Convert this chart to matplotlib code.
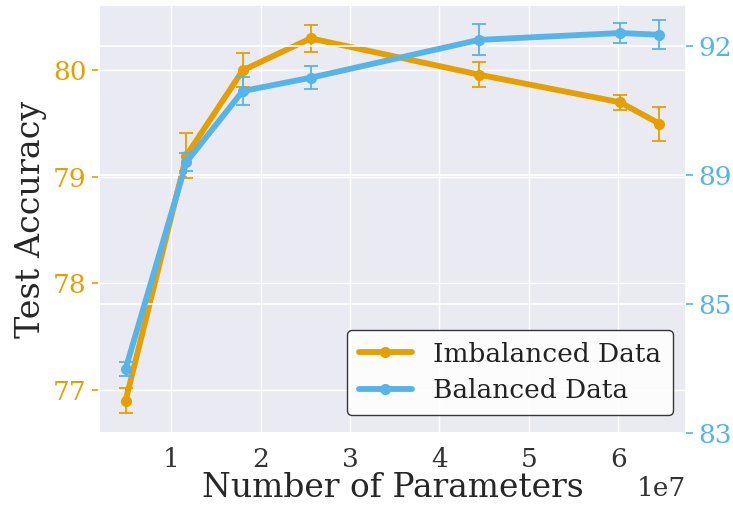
import numpy as np
import matplotlib
matplotlib.use("Agg")
import matplotlib.pyplot as plt
from matplotlib.lines import Line2D
import seaborn as sns

sns.set_theme(style="darkgrid")
plt.rcParams["font.family"] = ["DejaVu Serif"]

# Model sizes (number of parameters)
params = [0.49e7, 1.17e7, 1.80e7, 2.56e7, 4.44e7, 6.02e7, 6.46e7]

# Test accuracy, imbalanced training data (left axis)
acc_imbalanced = [76.90, 79.20, 80.00, 80.30, 79.96, 79.70, 79.50]
err_imbalanced = [0.12, 0.21, 0.16, 0.13, 0.12, 0.07, 0.16]

# Test accuracy, balanced training data (right axis)
acc_balanced = [84.49, 89.30, 90.95, 91.26, 92.14, 92.30, 92.26]
err_balanced = [0.16, 0.20, 0.33, 0.27, 0.36, 0.23, 0.34]

right_ticks = [83, 86, 89, 92]
right_tick_labels = ["83", "85", "89", "92"]

orange = "#E69F00"
blue = "#56B4E9"

fig, ax = plt.subplots(figsize=(7.33, 5.08), dpi=100)
fig.subplots_adjust(left=0.135, right=0.936, top=0.99, bottom=0.148)

ax.errorbar(params, acc_imbalanced, yerr=err_imbalanced, color=orange,
            lw=4.2, marker="o", ms=7, capsize=5, elinewidth=1.3,
            capthick=1.3)
ax.set_ylabel("Test Accuracy", fontsize=24)
ax.set_xlabel("Number of Parameters", fontsize=23.7, labelpad=0)
ax.tick_params(axis="y", colors=orange, labelsize=19, length=5, width=1.2,
               left=True, pad=4)
ax.tick_params(axis="x", labelsize=19, colors="#333333", pad=4)
ax.xaxis.get_offset_text().set_fontsize(19)
ax.set_yticks([77, 78, 79, 80])

ax2 = ax.twinx()
ax2.errorbar(params, acc_balanced, yerr=err_balanced, color=blue,
             lw=4.2, marker="o", ms=7, capsize=5, elinewidth=1.3,
             capthick=1.3)
ax2.set_ylim(83, 92.95)
ax2.set_yticks(right_ticks)
ax2.set_yticklabels(right_tick_labels)
ax2.tick_params(axis="y", colors=blue, labelsize=19, length=5, width=1.2,
                right=True, pad=4)
ax2.grid(True, color="white", lw=1.2)
for s in ax2.spines.values():
    s.set_visible(False)

handles = [Line2D([], [], color=orange, lw=4.2, marker="o", ms=7),
           Line2D([], [], color=blue, lw=4.2, marker="o", ms=7)]
leg = ax2.legend(handles, ["Imbalanced Data", "Balanced Data"],
                 loc="lower right", fontsize=19, frameon=True,
                 facecolor="white", edgecolor="#222222", framealpha=0.9,
                 borderpad=0.45, handlelength=2.0, labelspacing=0.45,
                 borderaxespad=0.5, bbox_to_anchor=(1.0, 0.01))
leg.get_frame().set_linewidth(1.0)
for t in leg.get_texts():
    t.set_color("#222222")

fig.savefig("out.png", dpi=100)
